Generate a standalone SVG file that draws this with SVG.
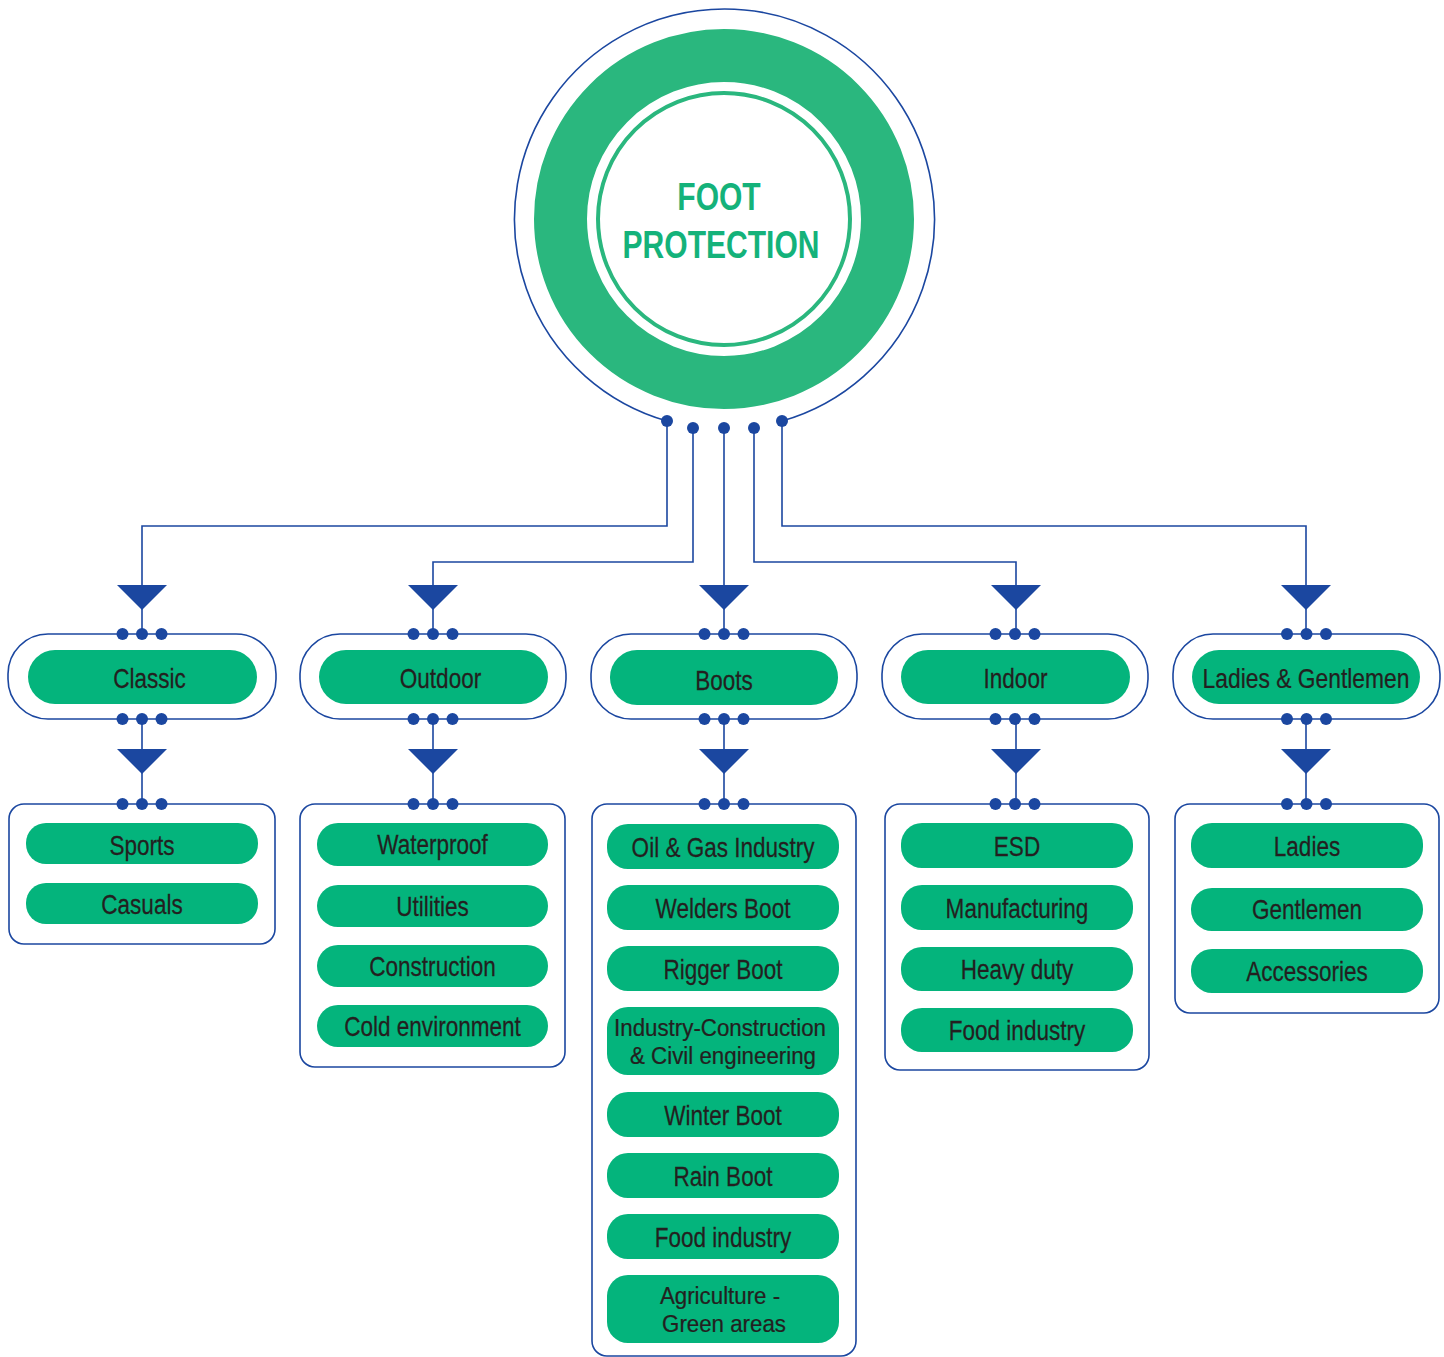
<svg xmlns="http://www.w3.org/2000/svg" width="1444" height="1357" viewBox="0 0 1444 1357">
<style>
.ln{fill:none;stroke:#1b47a0;stroke-width:1.6}
.dot{fill:#1b47a0}
.tri{fill:#1b47a0}
.box{fill:#fff;stroke:#1b47a0;stroke-width:1.6}
.pill{fill:#04b47c}
.t{font-family:"Liberation Sans",Arial,sans-serif;font-size:27.5px;fill:#231f20;stroke:#231f20;stroke-width:0.25;text-anchor:middle}
.t2{font-size:24px}
.title{font-family:"Liberation Sans",Arial,sans-serif;font-size:39px;font-weight:bold;fill:#14b27a;text-anchor:middle}
</style>
<defs>
<polygon id="arrow" class="tri" points="-25,0 25,0 0,25"/>
<g id="dots3"><circle class="dot" cx="-19.5" cy="0" r="6"/><circle class="dot" cx="0" cy="0" r="6"/><circle class="dot" cx="19.5" cy="0" r="6"/></g>
</defs>

<g id="root">
<path class="ln" d="M667,421 A210,210 0 1 1 782,421"/>
<circle cx="724" cy="219" r="163.5" fill="none" stroke="#2ab77e" stroke-width="53"/>
<circle cx="724" cy="219" r="126" fill="none" stroke="#2ab77e" stroke-width="4"/>
<text class="title" transform="translate(720 210) scale(0.77 1)"><tspan x="-1.3" y="0">FOOT</tspan><tspan x="1.3" y="48">PROTECTION</tspan></text>
</g>

<g id="connectors">
<path class="ln" d="M667,421 V526 H142 V585"/>
<path class="ln" d="M693,428 V562 H433 V585"/>
<path class="ln" d="M724,428 V585"/>
<path class="ln" d="M754,428 V562 H1016 V585"/>
<path class="ln" d="M782,421 V526 H1306 V585"/>
<circle class="dot" cx="667" cy="421" r="6"/>
<circle class="dot" cx="693" cy="428" r="6"/>
<circle class="dot" cx="724" cy="428" r="6"/>
<circle class="dot" cx="754" cy="428" r="6"/>
<circle class="dot" cx="782" cy="421" r="6"/>
<path class="ln" d="M142,608 V634 M142,719 V750 M142,772 V804"/>
<path class="ln" d="M433,608 V634 M433,719 V750 M433,772 V804"/>
<path class="ln" d="M724,608 V634 M724,719 V750 M724,772 V804"/>
<path class="ln" d="M1016,608 V634 M1016,719 V750 M1016,772 V804"/>
<path class="ln" d="M1306,608 V634 M1306,719 V750 M1306,772 V804"/>
<use href="#arrow" x="142" y="585"/><use href="#arrow" x="142" y="749"/>
<use href="#arrow" x="433" y="585"/><use href="#arrow" x="433" y="749"/>
<use href="#arrow" x="724" y="585"/><use href="#arrow" x="724" y="749"/>
<use href="#arrow" x="1016" y="585"/><use href="#arrow" x="1016" y="749"/>
<use href="#arrow" x="1306" y="585"/><use href="#arrow" x="1306" y="749"/>
</g>

<!-- Classic -->
<g id="classic">
<rect class="box" x="8" y="634" width="268" height="85" rx="40"/>
<rect class="pill" x="28" y="650" width="229" height="54" rx="27"/>
<text class="t" transform="translate(149.5 688) scale(0.82 1)">Classic</text>
<use href="#dots3" x="142" y="634"/><use href="#dots3" x="142" y="719"/>
</g>
<g id="classic-list">
<rect class="box" x="9" y="804" width="266" height="140" rx="15"/>
<use href="#dots3" x="142" y="804"/>
<rect class="pill" x="26" y="823" width="232" height="41" rx="20"/>
<text class="t" transform="translate(142 855) scale(0.82 1)">Sports</text>
<rect class="pill" x="26" y="883" width="232" height="41" rx="20"/>
<text class="t" transform="translate(142 914) scale(0.82 1)">Casuals</text>
</g>

<!-- Outdoor -->
<g id="outdoor">
<rect class="box" x="300" y="634" width="266" height="85" rx="40"/>
<rect class="pill" x="319" y="650" width="229" height="54" rx="27"/>
<text class="t" transform="translate(440.5 688) scale(0.82 1)">Outdoor</text>
<use href="#dots3" x="433" y="634"/><use href="#dots3" x="433" y="719"/>
</g>
<g id="outdoor-list">
<rect class="box" x="300" y="804" width="265" height="263" rx="15"/>
<use href="#dots3" x="433" y="804"/>
<rect class="pill" x="317" y="823" width="231" height="43" rx="21"/>
<text class="t" transform="translate(432.5 854) scale(0.82 1)">Waterproof</text>
<rect class="pill" x="317" y="885" width="231" height="42" rx="21"/>
<text class="t" transform="translate(432.5 916) scale(0.82 1)">Utilities</text>
<rect class="pill" x="317" y="945" width="231" height="42" rx="21"/>
<text class="t" transform="translate(432.5 976) scale(0.82 1)">Construction</text>
<rect class="pill" x="317" y="1005" width="231" height="42" rx="21"/>
<text class="t" transform="translate(432.5 1036) scale(0.82 1)">Cold environment</text>
</g>

<!-- Boots -->
<g id="boots">
<rect class="box" x="591" y="634" width="266" height="85" rx="40"/>
<rect class="pill" x="610" y="650" width="228" height="55" rx="27"/>
<text class="t" transform="translate(724 690) scale(0.82 1)">Boots</text>
<use href="#dots3" x="724" y="634"/><use href="#dots3" x="724" y="719"/>
</g>
<g id="boots-list">
<rect class="box" x="592" y="804" width="264" height="552" rx="15"/>
<use href="#dots3" x="724" y="804"/>
<rect class="pill" x="607" y="824" width="232" height="45" rx="21"/>
<text class="t" transform="translate(723 857) scale(0.82 1)">Oil &amp; Gas Industry</text>
<rect class="pill" x="607" y="885" width="232" height="45" rx="21"/>
<text class="t" transform="translate(723 918) scale(0.82 1)">Welders Boot</text>
<rect class="pill" x="607" y="946" width="232" height="45" rx="21"/>
<text class="t" transform="translate(723 979) scale(0.82 1)">Rigger Boot</text>
<rect class="pill" x="607" y="1007" width="232" height="68" rx="21"/>
<text class="t t2" transform="translate(723 1036) scale(0.93 1)"><tspan x="-3.2" y="0">Industry-Construction</tspan><tspan x="0" y="28">&amp; Civil engineering</tspan></text>
<rect class="pill" x="607" y="1092" width="232" height="45" rx="21"/>
<text class="t" transform="translate(723 1125) scale(0.82 1)">Winter Boot</text>
<rect class="pill" x="607" y="1153" width="232" height="45" rx="21"/>
<text class="t" transform="translate(723 1186) scale(0.82 1)">Rain Boot</text>
<rect class="pill" x="607" y="1214" width="232" height="45" rx="21"/>
<text class="t" transform="translate(723 1247) scale(0.82 1)">Food industry</text>
<rect class="pill" x="607" y="1275" width="232" height="68" rx="21"/>
<text class="t t2" transform="translate(723 1304) scale(0.93 1)"><tspan x="-3.2" y="0">Agriculture -</tspan><tspan x="1.1" y="28">Green areas</tspan></text>
</g>

<!-- Indoor -->
<g id="indoor">
<rect class="box" x="882" y="634" width="266" height="85" rx="40"/>
<rect class="pill" x="901" y="650" width="229" height="54" rx="27"/>
<text class="t" transform="translate(1015.5 688) scale(0.82 1)">Indoor</text>
<use href="#dots3" x="1015" y="634"/><use href="#dots3" x="1015" y="719"/>
</g>
<g id="indoor-list">
<rect class="box" x="885" y="804" width="264" height="266" rx="15"/>
<use href="#dots3" x="1015" y="804"/>
<rect class="pill" x="901" y="823" width="232" height="45" rx="21"/>
<text class="t" transform="translate(1017 856) scale(0.82 1)">ESD</text>
<rect class="pill" x="901" y="885" width="232" height="45" rx="21"/>
<text class="t" transform="translate(1017 918) scale(0.82 1)">Manufacturing</text>
<rect class="pill" x="901" y="947" width="232" height="44" rx="21"/>
<text class="t" transform="translate(1017 979) scale(0.82 1)">Heavy duty</text>
<rect class="pill" x="901" y="1008" width="232" height="44" rx="21"/>
<text class="t" transform="translate(1017 1040) scale(0.82 1)">Food industry</text>
</g>

<!-- Ladies & Gentlemen -->
<g id="ladies-gentlemen">
<rect class="box" x="1173" y="634" width="267" height="85" rx="40"/>
<rect class="pill" x="1192" y="650" width="228" height="54" rx="27"/>
<text class="t" transform="translate(1306 688) scale(0.83 1)">Ladies &amp; Gentlemen</text>
<use href="#dots3" x="1306.5" y="634"/><use href="#dots3" x="1306.5" y="719"/>
</g>
<g id="ladies-list">
<rect class="box" x="1175" y="804" width="264" height="209" rx="15"/>
<use href="#dots3" x="1306.5" y="804"/>
<rect class="pill" x="1191" y="823" width="232" height="45" rx="21"/>
<text class="t" transform="translate(1307 856) scale(0.82 1)">Ladies</text>
<rect class="pill" x="1191" y="888" width="232" height="43" rx="21"/>
<text class="t" transform="translate(1307 919) scale(0.82 1)">Gentlemen</text>
<rect class="pill" x="1191" y="949" width="232" height="44" rx="21"/>
<text class="t" transform="translate(1307 981) scale(0.82 1)">Accessories</text>
</g>
</svg>
